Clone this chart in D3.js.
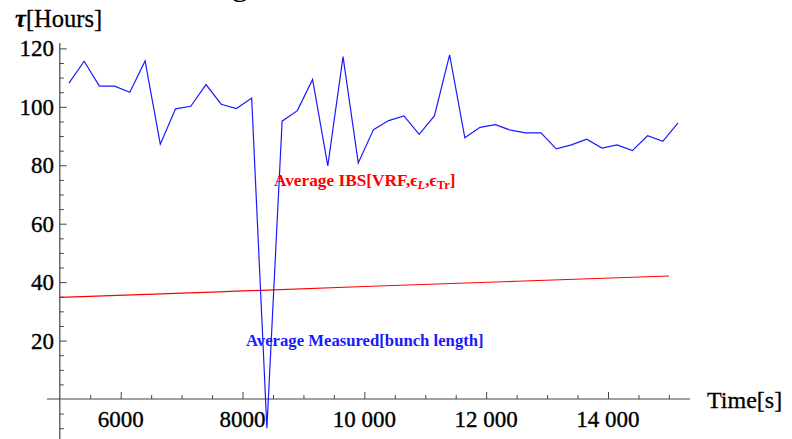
<!DOCTYPE html>
<html>
<head>
<meta charset="utf-8">
<script src="https://cdn.jsdelivr.net/npm/d3@7"></script>
<style>
  html, body { margin: 0; padding: 0; background: #fff; }
  svg { display: block; }
  text { font-family: "Liberation Serif", "Times New Roman", serif; }
</style>
</head>
<body>
<svg id="chart" width="792" height="439"></svg>
<script>
// ---- data ----
const measuredTime = [5150,5400,5650,5900,6150,6400,6650,6900,7150,7400,7650,7900,8150,8400,8650,8900,9150,9400,9650,9900,
  10150,10400,10650,10900,11150,11400,11650,11900,12150,12400,12650,12900,13150,13400,13650,13900,14150,14400,14650,14900,15150];
const measuredTau = [108.1,115.6,107.1,107.1,105.0,115.7,87.2,99.3,100.2,107.6,100.9,99.4,103.0,-10.0,95.1,98.7,109.4,79.8,117.2,80.8,
  92.2,95.3,96.9,90.6,96.9,117.8,89.4,93.0,93.9,92.0,91.1,91.1,85.6,87.0,88.9,85.9,87.0,85.0,90.1,88.2,94.5];
const ibsTime = [5000, 7500, 10000, 12500, 15000];
const ibsTau = [34.8, 36.6, 38.5, 40.3, 42.1];
const xMajorTicks = [6000, 8000, 10000, 12000, 14000];
const xTickLabels = ["6000", "8000", "10 000", "12 000", "14 000"];
const yMajorTicks = [20, 40, 60, 80, 100, 120];
const yTickLabels = ["20", "40", "60", "80", "100", "120"];

// ---- scales ----
const svg = d3.select("#chart");
const x = d3.scaleLinear().domain([5000, 15000]).range([59.8, 668.9]);
const y = d3.scaleLinear().domain([0, 120]).range([399, 48.4]);
const axisColor = "#444";

// partial title glyph clipped at the top (title lies above the visible area)
svg.append("text").attr("x", 240).attr("y", -5).attr("text-anchor", "middle")
  .attr("font-size", 34).attr("fill", "#000").text("g");

// ---- axes lines ----
svg.append("line").attr("x1", x(5000)).attr("x2", x(5000)).attr("y1", 43).attr("y2", 439)
  .attr("stroke", axisColor).attr("stroke-width", 1.2);
svg.append("line").attr("x1", 47).attr("x2", 690).attr("y1", y(0)).attr("y2", y(0))
  .attr("stroke", axisColor).attr("stroke-width", 1.2);

// x ticks
const xMinor = d3.range(5500, 15001, 500).filter(v => v % 2000 !== 0);
const xAxisMajor = d3.axisTop(x).tickValues(xMajorTicks).tickSize(7).tickFormat("");
const xAxisMinor = d3.axisTop(x).tickValues(xMinor).tickSize(4).tickFormat("");
[xAxisMajor, xAxisMinor].forEach(ax => {
  const g = svg.append("g").attr("transform", `translate(0,${y(0)})`).call(ax);
  g.select(".domain").remove();
  g.selectAll("line").attr("stroke", axisColor).attr("stroke-width", 1);
});
svg.append("g").selectAll("text").data(xMajorTicks).join("text")
  .attr("x", d => x(d)).attr("y", 427).attr("text-anchor", "middle")
  .attr("font-size", 23).attr("fill", "#000").attr("stroke", "#000").attr("stroke-width", 0.35)
  .text((d, i) => xTickLabels[i]);

// y ticks
const yMinor = d3.range(-10, 121, 5).filter(v => v % 20 !== 0);
const yAxisMajor = d3.axisRight(y).tickValues(yMajorTicks).tickSize(7).tickFormat("");
const yAxisMinor = d3.axisRight(y).tickValues(yMinor).tickSize(4).tickFormat("");
[yAxisMajor, yAxisMinor].forEach(ax => {
  const g = svg.append("g").attr("transform", `translate(${x(5000)},0)`).call(ax);
  g.select(".domain").remove();
  g.selectAll("line").attr("stroke", axisColor).attr("stroke-width", 1);
});
svg.append("g").selectAll("text").data(yMajorTicks).join("text")
  .attr("x", 54).attr("y", d => y(d) + 8).attr("text-anchor", "end")
  .attr("font-size", 23).attr("fill", "#000").attr("stroke", "#000").attr("stroke-width", 0.35)
  .text((d, i) => yTickLabels[i]);

// axis labels
const yl = svg.append("text").attr("x", 15).attr("y", 27).attr("font-size", 24.5)
  .attr("fill", "#000").attr("stroke", "#000").attr("stroke-width", 0.3);
yl.append("tspan").attr("font-style", "italic").attr("font-weight", "bold").text("τ");
yl.append("tspan").text("[Hours]");
svg.append("text").attr("x", 707).attr("y", 408).attr("font-size", 24)
  .attr("fill", "#000").attr("stroke", "#000").attr("stroke-width", 0.3).text("Time[s]");

// ---- series ----
const line = d3.line().x(d => x(d[0])).y(d => y(d[1]));
svg.append("path").datum(ibsTime.map((t, i) => [t, ibsTau[i]]))
  .attr("d", line).attr("fill", "none").attr("stroke", "#ff0000").attr("stroke-width", 1.2);
svg.append("path").datum(measuredTime.map((t, i) => [t, measuredTau[i]]))
  .attr("d", line).attr("fill", "none").attr("stroke", "#1a1aff").attr("stroke-width", 1.2);

// ---- annotations ----
const lab1 = svg.append("text").attr("x", 274).attr("y", 186).attr("font-size", 17.3)
  .attr("font-weight", "bold").attr("fill", "#ff0000");
lab1.append("tspan").text("Average IBS[VRF,ϵ");
lab1.append("tspan").attr("font-style", "italic").attr("font-size", 12.5).attr("dy", 3).text("L");
lab1.append("tspan").attr("dy", -3).text(",ϵ");
lab1.append("tspan").attr("font-size", 12.5).attr("dy", 3).text("Tr");
lab1.append("tspan").attr("dy", -3).text("]");

svg.append("text").attr("x", 246).attr("y", 346).attr("font-size", 16.7)
  .attr("font-weight", "bold").attr("fill", "#1a1aff").text("Average Measured[bunch length]");
</script>
</body>
</html>
